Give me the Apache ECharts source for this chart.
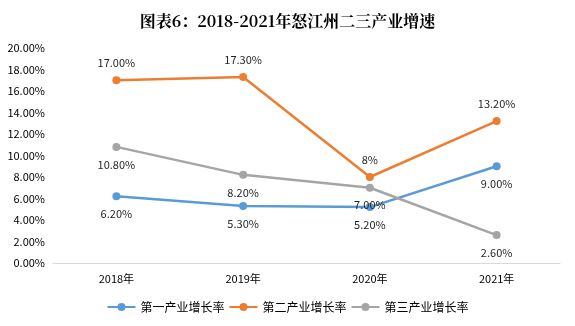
<!DOCTYPE html>
<html><head><meta charset="utf-8">
<script src="https://cdn.jsdelivr.net/npm/echarts@6/dist/echarts.min.js"></script>
<style>html,body{margin:0;padding:0;background:#fff}#c{width:575px;height:326px}</style>
</head><body><div id="c"></div>
<script>
const categories = ['2018年','2019年','2020年','2021年'];
const primary = [6.2, 5.3, 5.2, 9.0];
const secondary = [17.0, 17.3, 8, 13.2];
const tertiary = [10.8, 8.2, 7.0, 2.6];
const secondaryLabels = ['17.00%','17.30%','8%','13.20%'];
const seriesNames = ['第一产业增长率','第二产业增长率','第三产业增长率'];
const yTicks = {min:0, max:20, interval:2};

const font = '"Microsoft YaHei","Noto Sans CJK SC",sans-serif';
const chart = echarts.init(document.getElementById('c'));
function mk(name, data, color, pos, fmt){
  return {name, type:'line', data, symbol:'circle', symbolSize:8,
    lineStyle:{width:2.5,color}, itemStyle:{color},
    label:{show:true, position:pos, distance:8, color:'#262626', fontSize:11, fontFamily:font, formatter:fmt}};
}
chart.setOption({
  animation:false,
  title:{text:'图表6：2018-2021年怒江州二三产业增速', left:'center', top:8,
    textStyle:{fontSize:16, fontWeight:'bold', color:'#000', fontFamily:'"Noto Serif CJK SC","Noto Sans CJK SC",serif'}},
  grid:{left:53, right:15, top:48, bottom:63},
  legend:{bottom:8, left:'center', itemWidth:28, itemHeight:10, itemGap:4,
    textStyle:{fontSize:12, color:'#000', fontFamily:font},
    data:seriesNames},
  xAxis:{type:'category', data:categories, boundaryGap:true,
    axisLine:{lineStyle:{color:'#d9d9d9'}}, axisTick:{show:false},
    axisLabel:{color:'#000', fontSize:11, margin:10, fontFamily:font}},
  yAxis:{type:'value', min:yTicks.min, max:yTicks.max, interval:yTicks.interval,
    splitLine:{show:false}, axisLine:{show:false}, axisTick:{show:false},
    axisLabel:{color:'#000', fontSize:11, margin:8, fontFamily:font, formatter:v=>v.toFixed(2)+'%'}},
  series:[
    mk(seriesNames[0], primary, '#5B9BD5', 'bottom', p=>p.value.toFixed(2)+'%'),
    mk(seriesNames[1], secondary, '#ED7D31', 'top', p=>secondaryLabels[p.dataIndex]),
    mk(seriesNames[2], tertiary, '#A5A5A5', 'bottom', p=>p.value.toFixed(2)+'%')
  ]
});
</script></body></html>
